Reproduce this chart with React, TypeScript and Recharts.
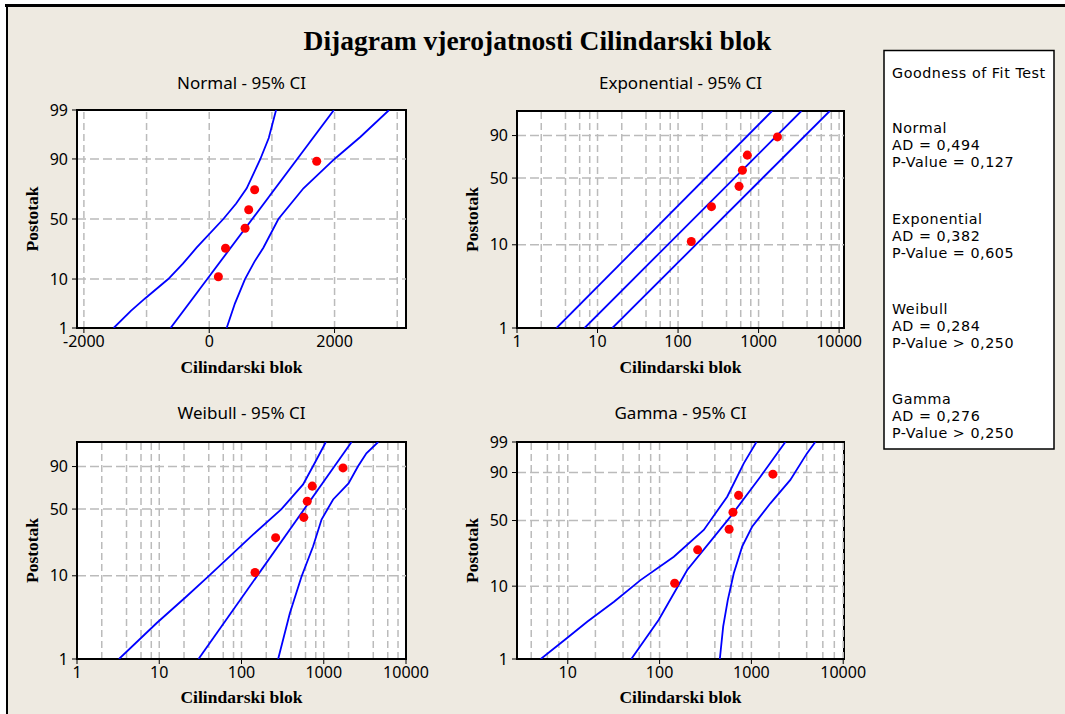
import React from 'react';
import {
  ScatterChart,
  Scatter,
  XAxis,
  YAxis,
  CartesianGrid,
  ReferenceLine,
  ReferenceArea,
  Label,
} from 'recharts';

// ---------------- sample (shared by all four probability plots) ----------------
const sampleValues = [146, 260, 572, 630, 725, 1715];
const samplePercents = [10.9, 26.6, 42.2, 57.8, 73.4, 89.1];

// ---------------- Normal - 95% CI (x value, percent) ----------------
const normalFitX = [-617, 1990];
const normalFitP = [1, 99];
const normalLeftX = [-1525, -1250, -1024, -654, -420, -202, 225, 430, 598, 811, 950, 1067];
const normalLeftP = [1, 2.5, 4.5, 10, 17, 27, 50, 63, 74.4, 89.7, 95.8, 99];
const normalRightX = [278, 411, 571, 720, 864, 1104, 1504, 2000, 2411, 2870];
const normalRightP = [1, 3.6, 10, 18, 27, 50, 74.4, 90, 96, 99];

// ---------------- Exponential - 95% CI ----------------
const expFitX = [6.9, 3400];
const expFitP = [1, 99];
const expLeftX = [3.1, 1470];
const expLeftP = [1, 99];
const expRightX = [15.3, 7650];
const expRightP = [1, 99];

// ---------------- Weibull - 95% CI ----------------
const weibullFitX = [30, 2180];
const weibullFitP = [1, 99];
const weibullLeftX = [3.24, 9.25, 21.4, 37.5, 72, 138, 306, 561, 780, 1061];
const weibullLeftP = [1, 2.72, 5.7, 9.4, 16.7, 28.6, 50, 75.1, 92.3, 99];
const weibullRightX = [279, 387, 537, 743, 940, 1300, 2000, 2600, 3300, 4590];
const weibullRightP = [1, 3.6, 9.8, 21.5, 40.3, 59.7, 76, 90, 96.5, 99];

// ---------------- Gamma - 95% CI ----------------
const gammaFitX = [49.2, 98, 200, 592, 1253, 2344];
const gammaFitP = [1, 3.6, 15.8, 53.6, 87.6, 99];
const gammaLeftX = [5.08, 10.3, 16.4, 31.9, 62, 143, 303, 545, 826, 1135];
const gammaLeftP = [1, 2.1, 3.4, 6.3, 11.9, 22.4, 41.6, 72.2, 94.2, 99];
const gammaRightX = [453, 493, 553, 643, 793, 1018, 1610, 2655, 4027, 4966];
const gammaRightP = [1, 2.9, 6.6, 14.4, 28.7, 44.4, 66.2, 85.5, 97.2, 99];

// ---------------- axes: ticks, grid, domains ----------------
const percentTicks = [1, 10, 50, 90, 99];
const percentTicksNo99 = [1, 10, 50, 90];
const percentGrid = [10, 50, 90];
const normalXTicks = [-2000, 0, 2000];
const normalXGrid = [-2000, -1000, 0, 1000, 2000, 3000];
const logXTicks = [1, 10, 100, 1000, 10000];
const gammaXTicks = [10, 100, 1000, 10000];
const logDecades = [1, 10, 100, 1000, 10000];
const logGridSteps = [1, 2, 4, 6, 8];
const normalXDomain = [-2110, 3140];
const expXDomain = [1, 11500];
const weibullXDomain = [1, 10000];
const gammaXDomain = [2.8, 10200];

// ---------------- texts ----------------
const mainTitle = 'Dijagram vjerojatnosti Cilindarski blok';
const panelTitles = ['Normal - 95% CI', 'Exponential - 95% CI', 'Weibull - 95% CI', 'Gamma - 95% CI'];
const xAxisTitle = 'Cilindarski blok';
const yAxisTitle = 'Postotak';
const gofHeader = 'Goodness of Fit Test';
const gofNames = ['Normal', 'Exponential', 'Weibull', 'Gamma'];
const gofAD = ['AD = 0,494', 'AD = 0,382', 'AD = 0,284', 'AD = 0,276'];
const gofP = ['P-Value = 0,127', 'P-Value = 0,605', 'P-Value > 0,250', 'P-Value > 0,250'];

// ---------------- probability-paper scales ----------------
function invNorm(p: number): number {
  const a = [-3.969683028665376e1, 2.209460984245205e2, -2.759285104469687e2, 1.38357751867269e2, -3.066479806614716e1, 2.506628277459239];
  const b = [-5.447609879822406e1, 1.615858368580409e2, -1.556989798598866e2, 6.680131188771972e1, -1.328068155288572e1];
  const c = [-7.784894002430293e-3, -3.223964580411365e-1, -2.400758277161838, -2.549732539343734, 4.374664141464968, 2.938163982698783];
  const d = [7.784695709041462e-3, 3.224671290700398e-1, 2.445134137142996, 3.754408661907416];
  const pl = 0.02425;
  if (p < pl) {
    const q = Math.sqrt(-2 * Math.log(p));
    return (((((c[0] * q + c[1]) * q + c[2]) * q + c[3]) * q + c[4]) * q + c[5]) / ((((d[0] * q + d[1]) * q + d[2]) * q + d[3]) * q + 1);
  }
  if (p > 1 - pl) {
    const q = Math.sqrt(-2 * Math.log(1 - p));
    return -(((((c[0] * q + c[1]) * q + c[2]) * q + c[3]) * q + c[4]) * q + c[5]) / ((((d[0] * q + d[1]) * q + d[2]) * q + d[3]) * q + 1);
  }
  const q = p - 0.5;
  const r = q * q;
  return ((((((a[0] * r + a[1]) * r + a[2]) * r + a[3]) * r + a[4]) * r + a[5]) * q) / (((((b[0] * r + b[1]) * r + b[2]) * r + b[3]) * r + b[4]) * r + 1);
}
const normalScale = (pct: number) => invNorm(pct / 100);
const loglogScale = (pct: number) => Math.log(-Math.log(1 - pct / 100));
const gammaScale = (pct: number) => {
  const p = pct / 100;
  let lo = 1e-9;
  let hi = 60;
  for (let i = 0; i < 200; i++) {
    const mid = (lo + hi) / 2;
    const F = 1 - Math.exp(-mid) * (1 + mid);
    if (F < p) lo = mid;
    else hi = mid;
  }
  return Math.log((lo + hi) / 2);
};

const logGrid = (dom: number[]) =>
  logDecades
    .flatMap((d) => logGridSteps.map((s) => d * s))
    .filter((v) => v > dom[0] * 1.0001 && v < dom[1] * 0.9999);

// ---------------- styles ----------------
const BG = '#EEEAE1';
const GRID = '#BBBBBB';
const BLUE = '#0000FF';
const RED = '#FF0000';
const SANS = '"Noto Sans", "DejaVu Sans", sans-serif';
const LEGEND_SANS = '"DejaVu Sans", sans-serif';
const SERIF = '"Liberation Serif", "Times New Roman", serif';

type CurveDef = { xs: number[]; ps: number[] };

interface PanelProps {
  left: number;
  top: number;
  width: number;
  height: number;
  marginTop: number;
  marginRight: number;
  xAxisHeight: number;
  xLabelOffset: number;
  xDomain: number[];
  logX: boolean;
  xTicks: number[];
  xGrid: number[];
  yTicks: number[];
  tf: (p: number) => number;
  curves: CurveDef[];
}

const noShape = () => <g />;

function Panel(props: PanelProps) {
  const {
    left, top, width, height, marginTop, marginRight, xAxisHeight, xLabelOffset,
    xDomain, logX, xTicks, xGrid, yTicks, tf, curves,
  } = props;
  const yDomain = [tf(1), tf(99)];
  const yTickVals = yTicks.map(tf);
  const fmtY = (v: number) => {
    const i = yTickVals.findIndex((t) => Math.abs(t - v) < 1e-6);
    return i >= 0 ? String(yTicks[i]) : '';
  };
  const curveData = curves.map((c) => c.xs.map((x, i) => ({ x, y: tf(c.ps[i]) })));
  const points = sampleValues.map((x, i) => ({ x, y: tf(samplePercents[i]) }));
  const tickStyle = { fill: '#000', fontSize: 16, fontFamily: SANS };
  const axisTitleStyle = { fill: '#000', fontSize: 17.5, fontFamily: SERIF, fontWeight: 'bold' as const };

  return (
    <div style={{ position: 'absolute', left, top, width, height }}>
      <ScatterChart width={width} height={height} margin={{ top: marginTop, right: marginRight, bottom: 0, left: 0 }}>
        <CartesianGrid fill="#FFFFFF" horizontal={false} vertical={false} />
        <XAxis
          type="number"
          dataKey="x"
          scale={logX ? 'log' : 'linear'}
          domain={xDomain}
          allowDataOverflow
          ticks={xTicks}
          interval={0}
          height={xAxisHeight}
          tickSize={5}
          tickMargin={3}
          axisLine={{ stroke: '#000', strokeWidth: 2 }}
          tickLine={{ stroke: '#000' }}
          tick={tickStyle}
        >
          <Label value={xAxisTitle} position="insideBottom" offset={xLabelOffset} style={axisTitleStyle} />
        </XAxis>
        <YAxis
          type="number"
          dataKey="y"
          domain={yDomain}
          allowDataOverflow
          ticks={yTickVals}
          interval={0}
          width={77}
          tickSize={5}
          tickMargin={4}
          tickFormatter={fmtY}
          axisLine={{ stroke: '#000', strokeWidth: 2 }}
          tickLine={{ stroke: '#000' }}
          tick={tickStyle}
        >
          <Label
            value={yAxisTitle}
            angle={-90}
            position="insideLeft"
            offset={32}
            style={{ ...axisTitleStyle, textAnchor: 'middle' }}
          />
        </YAxis>
        {xGrid.map((v) => (
          <ReferenceLine key={'gx' + v} x={v} stroke={GRID} strokeWidth={1.5} strokeDasharray="7 4" />
        ))}
        {percentGrid.map((p) => (
          <ReferenceLine key={'gy' + p} y={tf(p)} stroke={GRID} strokeWidth={1.5} strokeDasharray="9 4" />
        ))}
        {curveData.map((d, i) => (
          <Scatter
            key={'c' + i}
            data={d}
            line={{ stroke: BLUE, strokeWidth: 1.8 }}
            lineType="joint"
            shape={noShape}
            isAnimationActive={false}
          />
        ))}
        <Scatter data={points} fill={RED} isAnimationActive={false} />
        <ReferenceArea
          x1={xDomain[0]}
          x2={xDomain[1]}
          y1={yDomain[0]}
          y2={yDomain[1]}
          fill="none"
          fillOpacity={0}
          stroke="#000"
          strokeWidth={2}
          ifOverflow="visible"
        />
      </ScatterChart>
    </div>
  );
}

export default function App() {
  const gofFirstBaselines = [133, 224, 314, 404];
  const legendText = { fontFamily: LEGEND_SANS, fontSize: 14.3, letterSpacing: 0.55, fill: '#000' };
  return (
    <div style={{ position: 'absolute', left: 0, top: 0, width: 1065, height: 714, overflow: 'hidden' }}>
      <svg width={1065} height={714} style={{ position: 'absolute', left: 0, top: 0 }}>
        <rect x={0} y={0} width={1065} height={714} fill="#FFFFFF" />
        <rect x={6} y={5} width={1059} height={709} fill={BG} />
        <line x1={5} y1={5.5} x2={1065} y2={5.5} stroke="#000" strokeWidth={3} />
        <line x1={7} y1={5} x2={7} y2={714} stroke="#000" strokeWidth={2} />
        <text x={537.5} y={50} textAnchor="middle" fontFamily={SERIF} fontWeight="bold" fontSize={27.5} fill="#000">
          {mainTitle}
        </text>
        <text x={241.5} y={89} textAnchor="middle" fontFamily={SANS} fontSize={17} fill="#000">{panelTitles[0]}</text>
        <text x={680.5} y={89} textAnchor="middle" fontFamily={SANS} fontSize={17} fill="#000">{panelTitles[1]}</text>
        <text x={241.5} y={419} textAnchor="middle" fontFamily={SANS} fontSize={17} fill="#000">{panelTitles[2]}</text>
        <text x={680.5} y={419} textAnchor="middle" fontFamily={SANS} fontSize={17} fill="#000">{panelTitles[3]}</text>
        <rect x={884} y={50.5} width={170} height={398.5} fill="#FFFFFF" stroke="#000" strokeWidth={1.5} />
        <text x={892} y={78} {...legendText}>{gofHeader}</text>
        {gofNames.map((n, i) => (
          <g key={n}>
            <text x={892} y={gofFirstBaselines[i]} {...legendText}>{n}</text>
            <text x={892} y={gofFirstBaselines[i] + 17} {...legendText}>{gofAD[i]}</text>
            <text x={892} y={gofFirstBaselines[i] + 34} {...legendText}>{gofP[i]}</text>
          </g>
        ))}
      </svg>

      <Panel
        left={0} top={70} width={430} height={310}
        marginTop={40} marginRight={24} xAxisHeight={52} xLabelOffset={7}
        xDomain={normalXDomain} logX={false} xTicks={normalXTicks} xGrid={normalXGrid}
        yTicks={percentTicks} tf={normalScale}
        curves={[
          { xs: normalLeftX, ps: normalLeftP },
          { xs: normalFitX, ps: normalFitP },
          { xs: normalRightX, ps: normalRightP },
        ]}
      />
      <Panel
        left={440} top={70} width={430} height={310}
        marginTop={41} marginRight={26} xAxisHeight={52} xLabelOffset={7}
        xDomain={expXDomain} logX xTicks={logXTicks} xGrid={logGrid(expXDomain)}
        yTicks={percentTicksNo99} tf={loglogScale}
        curves={[
          { xs: expLeftX, ps: expLeftP },
          { xs: expFitX, ps: expFitP },
          { xs: expRightX, ps: expRightP },
        ]}
      />
      <Panel
        left={0} top={400} width={430} height={314}
        marginTop={42} marginRight={24} xAxisHeight={55} xLabelOffset={11}
        xDomain={weibullXDomain} logX xTicks={logXTicks} xGrid={logGrid(weibullXDomain)}
        yTicks={percentTicksNo99} tf={loglogScale}
        curves={[
          { xs: weibullLeftX, ps: weibullLeftP },
          { xs: weibullFitX, ps: weibullFitP },
          { xs: weibullRightX, ps: weibullRightP },
        ]}
      />
      <Panel
        left={440} top={400} width={430} height={314}
        marginTop={42} marginRight={26} xAxisHeight={55} xLabelOffset={11}
        xDomain={gammaXDomain} logX xTicks={gammaXTicks} xGrid={logGrid(gammaXDomain)}
        yTicks={percentTicks} tf={gammaScale}
        curves={[
          { xs: gammaLeftX, ps: gammaLeftP },
          { xs: gammaFitX, ps: gammaFitP },
          { xs: gammaRightX, ps: gammaRightP },
        ]}
      />
    </div>
  );
}
